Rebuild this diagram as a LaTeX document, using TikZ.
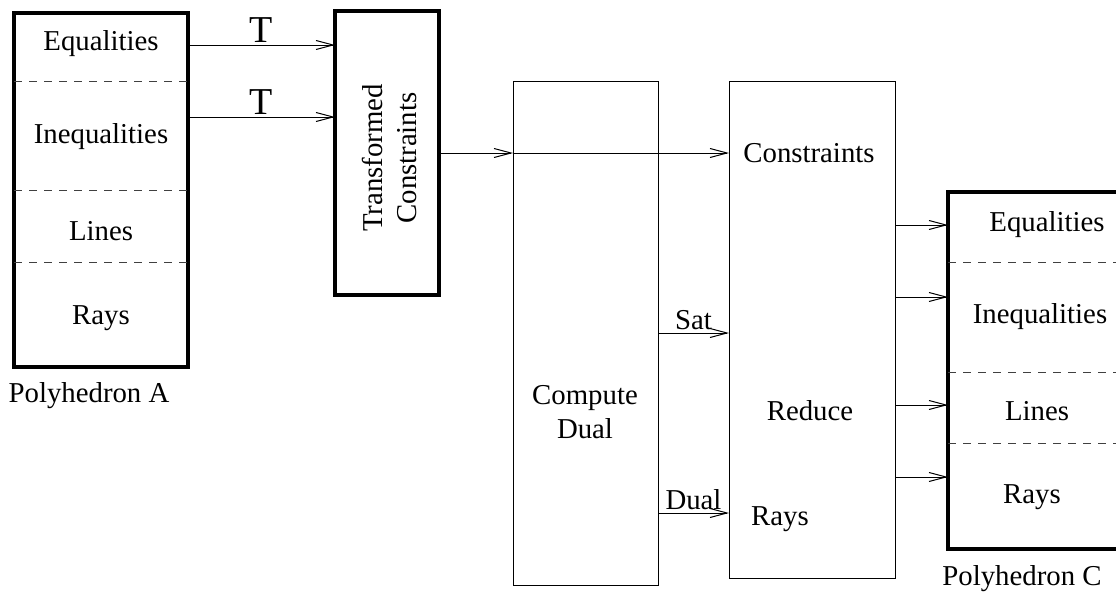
\documentclass[tikz,border=0pt]{standalone}
\usepackage{fontspec}
\setmainfont{Liberation Serif}
\usetikzlibrary{arrows.meta}
\usetikzlibrary{positioning}

\begin{document}
\begin{tikzpicture}[x=0.5pt, y=-0.5pt,
        every node/.style={font=\fontsize{14.4}{17}\selectfont},
        polybox/.style={draw, line width=2pt, inner sep=0pt, outer sep=0pt,
            minimum width=87pt, minimum height=177pt},
        stagebox/.style={draw, line width=0.5pt, inner sep=0pt, outer sep=0pt},
        divider/.style={dash pattern=on 4pt off 3.5pt, line width=0.5pt, black!75},
        flow/.style={-{Straight Barb[length=8.5pt,width=4.5pt]}, line width=0.5pt},
        bigtext/.style={font=\fontsize{19}{22}\selectfont, inner sep=1pt}]

        \useasboundingbox (0,0) rectangle (1116,594);

        % polyhedron A
        \node[polybox] (polyA) at (101,190) {};
        \draw[divider] ([yshift=-34pt]polyA.north west) -- ([yshift=-34pt]polyA.north east);
        \draw[divider] ([yshift=-88.5pt]polyA.north west) -- ([yshift=-88.5pt]polyA.north east);
        \draw[divider] ([yshift=-124.5pt]polyA.north west) -- ([yshift=-124.5pt]polyA.north east);
        \node (eqA) at (101,44) {Equalities};
        \node (ineqA) at (101,137) {Inequalities};
        \node (linesA) at (101,231) {Lines};
        \node (raysA) at (101,318) {Rays};
        \node (labelA) at (89,396) {Polyhedron A};

        % transformed constraints
        \node[polybox, minimum width=52pt, minimum height=142pt] (trans) at (387,153) {};
        \node[rotate=90, align=center] (transtext) at (389,158) {Transformed\\Constraints};

        \coordinate (tin1) at (0,45);
        \coordinate (tin2) at (0,117);
        \draw[flow] (polyA.east |- tin1) -- node[above, bigtext] (t1) {T} (trans.west |- tin1);
        \draw[flow] (polyA.east |- tin2) -- node[above, bigtext] (t2) {T} (trans.west |- tin2);

        % compute dual and reduce
        \node[stagebox, minimum width=72.5pt, minimum height=252pt] (dual) at (585.5,333) {};
        \node[align=center] (dualtext) at (585,412) {Compute\\Dual};
        \node[stagebox, minimum width=83pt, minimum height=248.5pt] (reduce) at (812,329.5) {};
        \node (constr) at (809,153) {Constraints};
        \node (reducetext) at (810,411) {Reduce};
        \node (raysR) at (780,519) {Rays};

        \draw[flow] (trans.east) -- (trans.east -| dual.west);
        \draw[flow] (trans.east -| dual.west) -- (trans.east -| reduce.west);
        \draw[flow] (dual.east) -- node[above, inner sep=1.5pt] (sat) {Sat} (dual.east -| reduce.west);
        \coordinate (dualout) at (0,513);
        \draw[flow] (dual.east |- dualout) -- node[above, inner sep=1.5pt] (dl) {Dual} (reduce.west |- dualout);

        % polyhedron C
        \node[polybox, minimum height=178.5pt] (polyC) at (1035,370.5) {};
        \draw[divider] ([yshift=-35pt]polyC.north west) -- ([yshift=-35pt]polyC.north east);
        \draw[divider] ([yshift=-90pt]polyC.north west) -- ([yshift=-90pt]polyC.north east);
        \draw[divider] ([yshift=-125.5pt]polyC.north west) -- ([yshift=-125.5pt]polyC.north east);
        \node (eqC) at (1047,225) {Equalities};
        \node (ineqC) at (1040,317) {Inequalities};
        \node (linesC) at (1037,411) {Lines};
        \node (raysC) at (1032,497) {Rays};
        \node (labelC) at (1022,579) {Polyhedron C};

        \coordinate (cin1) at (0,225);
        \coordinate (cin2) at (0,297);
        \coordinate (cin3) at (0,405);
        \coordinate (cin4) at (0,477);
        \draw[flow] (reduce.east |- cin1) -- (polyC.west |- cin1);
        \draw[flow] (reduce.east |- cin2) -- (polyC.west |- cin2);
        \draw[flow] (reduce.east |- cin3) -- (polyC.west |- cin3);
        \draw[flow] (reduce.east |- cin4) -- (polyC.west |- cin4);

\end{tikzpicture}
\end{document}
